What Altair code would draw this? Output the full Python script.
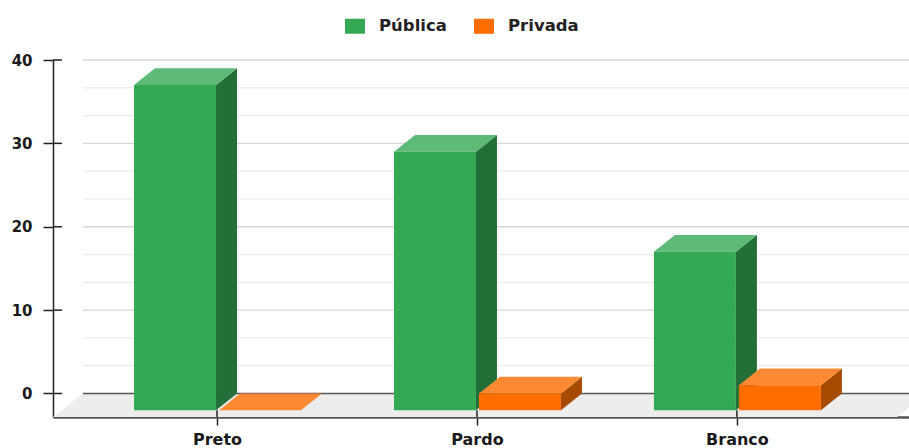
import altair as alt
import pandas as pd

# Values per race category and school network
categories = ["Preto", "Pardo", "Branco"]
publica = [39, 31, 19]
privada = [0, 2, 3]
networks = ["Pública", "Privada"]

# Scale extents: x in category slots, y in percentage points
X_MIN, X_MAX = -0.631, 2.662
Y_MIN, Y_MAX = -2.82, 40
DX, DY = 21 / 260, 2          # oblique depth of the 3D projection
BAR_W = 82 / 260
OFFSETS = {"Pública": -83 / 260, "Privada": 2 / 260}
COLORS = {
    "Pública": dict(front="#34A853", top="#5DBA77", side="#246F38"),
    "Privada": dict(front="#FF6D00", top="#FF8A33", side="#A64B00"),
}
FONT = "DejaVu Sans"

front_rows, top_rows, side_rows = [], [], []
for name, vals in zip(networks, [publica, privada]):
    for i, v in enumerate(vals):
        key = f"{name}-{i}"
        left = i + OFFSETS[name]
        right = left + BAR_W
        c = COLORS[name]
        layer = networks.index(name)
        front_rows.append(dict(net=name, x=left, x2=right, y=-DY, y2=v - DY, layer=layer))
        top_rows += [
            dict(key=key, net=name, y=v - DY, x=left, x2=right, fill=c["top"], layer=layer),
            dict(key=key, net=name, y=v, x=left + DX, x2=right + DX, fill=c["top"], layer=layer),
        ]
        side_rows += [
            dict(key=key, net=name, x=right, y=v - DY, y2=-DY, fill=c["side"], layer=layer),
            dict(key=key, net=name, x=right + DX, y=v, y2=0, fill=c["side"], layer=layer),
        ]
front = pd.DataFrame(front_rows)
top = pd.DataFrame(top_rows)
side = pd.DataFrame(side_rows)

x_scale = alt.Scale(domain=[X_MIN, X_MAX], nice=False, zero=False)
y_scale = alt.Scale(domain=[Y_MIN, Y_MAX], nice=False, zero=False)
label_expr = "[" + ",".join(f"'{c}'" for c in categories) + "][datum.value]"

x_axis = alt.Axis(
    values=[0, 1, 2], labelExpr=label_expr, grid=False,
    tickSize=8, tickColor="#222222", tickWidth=1.5,
    domainColor="#555555", domainWidth=2.5,
    labelFont=FONT, labelFontWeight="bold", labelFontSize=16,
    labelColor="#1a1a1a", labelPadding=6, labelFlush=False, labelOverlap=False,
)
y_axis = alt.Axis(
    values=[0, 10, 20, 30, 40], grid=False,
    tickSize=10, tickColor="#222222", tickWidth=1.5,
    domainColor="#222222", domainWidth=1.5,
    labelFont=FONT, labelFontWeight="bold", labelFontSize=15,
    labelColor="#1a1a1a", labelPadding=11, labelFlush=False, labelOverlap=False,
)
X = alt.X("x:Q", scale=x_scale, title=None, axis=x_axis)
Y = alt.Y("y:Q", scale=y_scale, title=None, axis=y_axis)

# Floor of the 3D plane, cut off at the plot edge
floor_df = pd.DataFrame({
    "y": [0, Y_MIN],
    "x": [X_MIN + 30 / 260, X_MIN],
    "x2": [X_MAX + 18 / 260, X_MAX - 12 / 260],
})
floor = alt.Chart(floor_df).mark_area(orient="horizontal", color="#EDEDED", clip=True).encode(
    x=X, x2="x2:Q", y=Y
)

# Gridlines on the back wall: three divisions per labelled step
grid_major = [10, 20, 30, 40]
grid_minor = [10 / 3 * k for k in range(1, 12) if k % 3]
wall_left = X_MIN + 30 / 260


def wall_lines(values, color, width):
    df = pd.DataFrame({"y": values, "x": wall_left, "x2": X_MAX})
    return alt.Chart(df).mark_rule(color=color, strokeWidth=width).encode(x=X, x2="x2:Q", y=Y)


grid_a = wall_lines(grid_minor, "#EBEBEB", 1.3)
grid_b = wall_lines(grid_major, "#D6D6D6", 1.3)
zero_line = wall_lines([0], "#555555", 1.4)

# Inner half of the axis ticks
inner_y = alt.Chart(pd.DataFrame({"y": [0, 10, 20, 30, 40], "x": X_MIN, "x2": X_MIN + 9 / 260})).mark_rule(
    color="#222222", strokeWidth=1.5
).encode(x=X, x2="x2:Q", y=Y)
inner_x = alt.Chart(pd.DataFrame({"x": [0, 1, 2], "y": Y_MIN, "y2": -DY})).mark_rule(
    color="#222222", strokeWidth=1.5
).encode(x=X, y=Y, y2="y2:Q")


def faces(layer):
    side_layer = alt.Chart(side[side.layer == layer]).mark_area(orient="vertical").encode(
        x=X, y=Y, y2="y2:Q",
        detail="key:N",
        color=alt.Color("fill:N", scale=None),
    )
    top_layer = alt.Chart(top[top.layer == layer]).mark_area(orient="horizontal").encode(
        x=X, x2="x2:Q", y=Y,
        detail="key:N",
        color=alt.Color("fill:N", scale=None),
    )
    front_layer = alt.Chart(front[front.layer == layer]).mark_rect().encode(
        x=X, x2="x2:Q", y=Y, y2="y2:Q",
        color=alt.Color(
            "net:N",
            scale=alt.Scale(domain=networks, range=[COLORS[n]["front"] for n in networks]),
            legend=alt.Legend(
                orient="none", legendX=292, legendY=-44, direction="horizontal", title=None,
                symbolType="M-1,-0.75H1V0.75H-1Z", symbolSize=400, symbolStrokeWidth=0,
                symbolOpacity=1, labelOffset=14, columnPadding=27, padding=0,
                labelFont=FONT, labelFontWeight="bold", labelFontSize=16.5, labelColor="#222222",
            ),
        ),
    )
    return side_layer + top_layer + front_layer


chart = alt.layer(
    floor, grid_a, grid_b, zero_line, inner_y, inner_x, faces(0), faces(1)
).properties(
    width=856, height=357,
    padding={"left": 53, "top": 60, "right": 0, "bottom": 31},
    autosize=alt.AutoSizeParams(type="none"),
    background="white",
).configure_view(stroke=None)

chart.save("out.html", embed_options={"renderer": "svg", "actions": False})
